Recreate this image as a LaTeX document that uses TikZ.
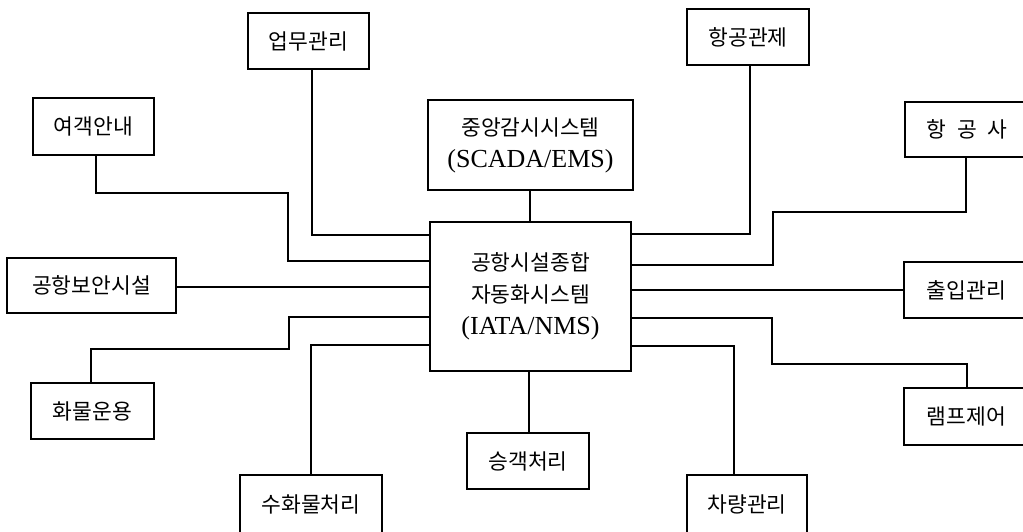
\documentclass[tikz,border=0pt]{standalone}
\usepackage{fontspec}
\setmainfont{Liberation Serif}
\newfontfamily\kr{Noto Sans CJK KR}
\newcommand{\lat}[1]{{\rmfamily\fontsize{26}{32}\selectfont #1}}
\tikzset{
  box/.style={draw, line width=1.1pt, inner sep=0pt, align=center,
    font=\kr\fontsize{21.5}{32}\selectfont},
  link/.style={line width=1.1pt, line join=miter}
}
\begin{document}
\begin{tikzpicture}[x=1pt,y=-1pt]
\useasboundingbox (0,0) rectangle (1023,532);
\clip (0,0) rectangle (1023,532);
% nodes
\node[box, minimum width=121pt, minimum height=56pt] (ops) at (308.5,41) {업무관리};
\node[box, minimum width=121pt, minimum height=57pt] (pinfo) at (93.5,126.5) {여객안내};
\node[box, minimum width=205pt, minimum height=90pt] (scada) at (530.5,145) {중앙감시시스템\\\lat{(SCADA/EMS)}};
\node[box, minimum width=201pt, minimum height=149pt] (ctr) at (530.5,296.5) {공항시설종합\\자동화시스템\\\lat{(IATA/NMS)}};
\node[box, minimum width=122pt, minimum height=56pt] (atc) at (748,37) {항공관제};
\node[box, minimum width=124pt, minimum height=55pt] (air) at (967,129.5) {항\hspace{11pt}공\hspace{11pt}사};
\node[box, minimum width=125pt, minimum height=56pt] (acc) at (966.5,290) {출입관리};
\node[box, minimum width=125pt, minimum height=57pt] (ramp) at (966.5,416.5) {램프제어};
\node[box, minimum width=169pt, minimum height=55pt] (sec) at (91.5,285.5) {공항보안시설};
\node[box, minimum width=123pt, minimum height=56pt] (cargo) at (92.5,411) {화물운용};
\node[box, minimum width=142pt, minimum height=58pt] (bag) at (311,504) {수화물처리};
\node[box, minimum width=122pt, minimum height=56pt] (pax) at (528,461) {승객처리};
\node[box, minimum width=120pt, minimum height=58pt] (veh) at (747,504) {차량관리};
% bend points
\coordinate (j1) at (312,235);
\coordinate (p1) at (96,193);
\coordinate (p2) at (288,261);
\coordinate (s1) at (0,287);
\coordinate (c1) at (289,317);
\coordinate (c2) at (91,349);
\coordinate (bg) at (311,345);
\coordinate (ps) at (529,0);
\coordinate (sc) at (530,0);
\coordinate (a1) at (750,234);
\coordinate (r1) at (966,212);
\coordinate (r2) at (773,265);
\coordinate (ac) at (0,290);
\coordinate (m1) at (772,318);
\coordinate (m2) at (967,364);
\coordinate (v1) at (734,346);
% connectors
\draw[link] (ops.south -| j1) -- (j1) -- (ctr.west |- j1);
\draw[link] (pinfo.south -| p1) -- (p1) -- (p1 -| p2) -- (p2) -- (ctr.west |- p2);
\draw[link] (sec.east |- s1) -- (ctr.west |- s1);
\draw[link] (ctr.west |- c1) -- (c1) -- (c1 |- c2) -- (c2) -- (cargo.north -| c2);
\draw[link] (ctr.west |- bg) -- (bg) -- (bag.north -| bg);
\draw[link] (ctr.south -| ps) -- (pax.north -| ps);
\draw[link] (scada.south -| sc) -- (ctr.north -| sc);
\draw[link] (atc.south -| a1) -- (a1) -- (ctr.east |- a1);
\draw[link] (air.south -| r1) -- (r1) -- (r1 -| r2) -- (r2) -- (ctr.east |- r2);
\draw[link] (ctr.east |- ac) -- (acc.west |- ac);
\draw[link] (ctr.east |- m1) -- (m1) -- (m1 |- m2) -- (m2) -- (ramp.north -| m2);
\draw[link] (ctr.east |- v1) -- (v1) -- (veh.north -| v1);
\end{tikzpicture}
\end{document}
